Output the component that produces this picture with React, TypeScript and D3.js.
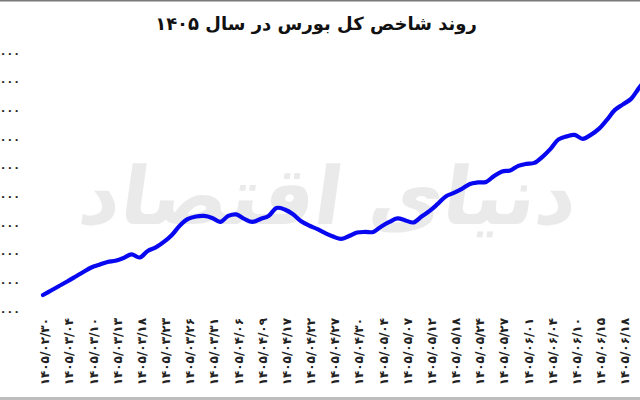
import React from "react";
import * as d3 from "d3";

const title = "روند شاخص کل بورس در سال ۱۴۰۵";
const watermark = "دنیای اقتصاد";

// x-axis labels (every third trading point)
const dateLabels = [
  "۱۴۰۵/۰۲/۳۰", "۱۴۰۵/۰۳/۰۴", "۱۴۰۵/۰۳/۱۰", "۱۴۰۵/۰۳/۱۳", "۱۴۰۵/۰۳/۱۸",
  "۱۴۰۵/۰۳/۲۳", "۱۴۰۵/۰۳/۲۶", "۱۴۰۵/۰۳/۳۱", "۱۴۰۵/۰۴/۰۶", "۱۴۰۵/۰۴/۰۹",
  "۱۴۰۵/۰۴/۱۷", "۱۴۰۵/۰۴/۲۲", "۱۴۰۵/۰۴/۲۷", "۱۴۰۵/۰۴/۳۰", "۱۴۰۵/۰۵/۰۴",
  "۱۴۰۵/۰۵/۰۷", "۱۴۰۵/۰۵/۱۲", "۱۴۰۵/۰۵/۱۸", "۱۴۰۵/۰۵/۲۴", "۱۴۰۵/۰۵/۲۷",
  "۱۴۰۵/۰۶/۰۱", "۱۴۰۵/۰۶/۰۴", "۱۴۰۵/۰۶/۱۰", "۱۴۰۵/۰۶/۱۵", "۱۴۰۵/۰۶/۱۸",
];

// index values, one per trading point
const indexValues = [
  2309600, 2341000, 2372400, 2403800, 2436700, 2470200, 2501600, 2521100, 2540000, 2549000,
  2567900, 2592300, 2571400, 2616800, 2641200, 2679600, 2728500, 2794800, 2840200, 2857600,
  2861100, 2847100, 2819200, 2861100, 2871600, 2840200, 2819200, 2840200, 2861100, 2916900,
  2906500, 2875100, 2826200, 2794800, 2770300, 2742400, 2718000, 2700500, 2721500, 2745900,
  2749400, 2749400, 2787800, 2819200, 2843600, 2829700, 2815700, 2857600, 2896000, 2944900,
  2997200, 3021700, 3049600, 3084500, 3095000, 3098500, 3140300, 3171800, 3178700, 3210200,
  3224100, 3231100, 3273000, 3328800, 3395100, 3416100, 3426600, 3398600, 3426600, 3468400,
  3531300, 3601100, 3639500, 3677900, 3754700, 3824500,
];

const yTicks = [2200000, 2400000, 2600000, 2800000, 3000000, 3200000, 3400000, 3600000, 3800000, 4000000];
const pointsPerLabel = 3;

const toFa = (s: string) => s.replace(/\d/g, (d) => "۰۱۲۳۴۵۶۷۸۹"[+d]);

export default function App() {
  const W = 640, H = 400;
  const x = d3.scaleLinear().domain([0, (dateLabels.length - 1) * pointsPerLabel]).range([43, 623]);
  const y = d3.scaleLinear().domain([2200000, 4000000]).range([310.7, 52.7]);
  const line = d3
    .line<number>()
    .x((_, i) => x(i))
    .y((d) => y(d))
    .curve(d3.curveCatmullRom.alpha(0.5));
  const fmt = d3.format(",");
  const font = "'DejaVu Sans', sans-serif";

  return (
    <svg
      width={W}
      height={H}
      style={{ position: "absolute", left: 0, top: 0, background: "#fff" }}
      fontFamily={font}
    >
      <rect x={0} y={0} width={W} height={H} fill="#fff" />
      <rect x={0} y={0} width={W} height={1.5} fill="#7a7a7a" />
      <rect x={0} y={397} width={W} height={3} fill="#bdbdbd" />

      <text
        x={325}
        y={224}
        textAnchor="middle"
        fontSize={80}
        fontWeight="bold"
        fill="#eaeaea"
        transform="translate(325,224) skewX(-8) translate(-325,-224)"
      >
        {watermark}
      </text>

      <text x={316} y={30} textAnchor="middle" fontSize={18} fontWeight="bold" fill="#111" direction="rtl">
        {title}
      </text>

      {yTicks.map((t) => (
        <text key={t} x={20} y={y(t)} dy="0.35em" textAnchor="end" fontSize={11} fontWeight="bold" fill="#222">
          {toFa(fmt(t))}
        </text>
      ))}

      {dateLabels.map((lab, i) => {
        const px = x(i * pointsPerLabel) + 2;
        return (
          <text
            key={lab}
            transform={`translate(${px},318) rotate(-90)`}
            dy="0.35em"
            textAnchor="end"
            fontSize={12}
            fontWeight="bold"
            fill="#222"
            direction="ltr"
          >
            {lab}
          </text>
        );
      })}

      <path d={line(indexValues) || ""} fill="none" stroke="#0808f0" strokeWidth={4.2} strokeLinecap="round" strokeLinejoin="round" />
    </svg>
  );
}
